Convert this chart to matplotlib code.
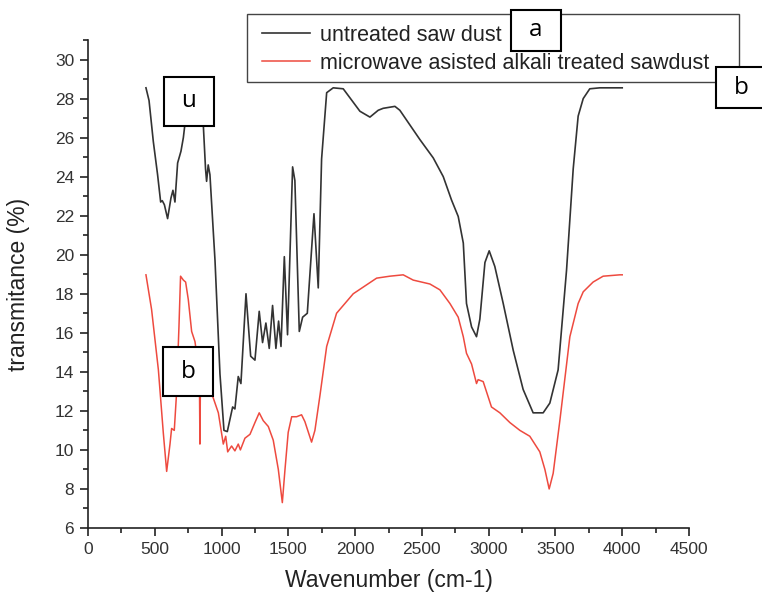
import matplotlib
matplotlib.use("Agg")
import matplotlib.pyplot as plt
from matplotlib.patches import Rectangle
from matplotlib.ticker import MultipleLocator

# ---- data ----
black_w = [434, 457, 489, 521, 544, 556, 572, 596, 621, 636, 651, 671, 696, 714, 726, 760, 790, 830,
           863, 880, 888, 900, 913, 938, 951, 988, 1018, 1043, 1083, 1100, 1125, 1145, 1183, 1218, 1250,
           1282, 1307, 1332, 1357, 1382, 1407, 1427, 1445, 1470, 1494, 1532, 1549, 1582, 1607, 1642,
           1692, 1724, 1749, 1787, 1836, 1911, 2036, 2111, 2173, 2210, 2298, 2335, 2485, 2585, 2660,
           2722, 2772, 2810, 2834, 2872, 2909, 2934, 2972, 3004, 3046, 3109, 3184, 3258, 3333, 3408,
           3458, 3520, 3583, 3633, 3670, 3708, 3757, 3832, 3982, 4000]
black_t = [28.55, 27.9, 25.8, 24.1, 22.7, 22.77, 22.56, 21.85, 22.9, 23.3, 22.7, 24.7, 25.3, 26.0, 26.7,
           27.8, 28.0, 27.6, 26.7, 24.4, 23.76, 24.6, 24.1, 21.2, 19.7, 13.9, 11.0, 10.94, 12.2, 12.1,
           13.76, 13.4, 18.0, 14.8, 14.6, 17.1, 15.5, 16.5, 15.2, 17.4, 15.2, 16.6, 15.3, 19.9, 15.9,
           24.5, 23.8, 16.07, 16.8, 17.0, 22.1, 18.3, 24.9, 28.3, 28.55, 28.5, 27.35, 27.05, 27.4, 27.5,
           27.6, 27.4, 25.9, 24.96, 24.0, 22.8, 21.96, 20.6, 17.5, 16.3, 15.8, 16.7, 19.6, 20.2, 19.4,
           17.5, 15.1, 13.1, 11.9, 11.9, 12.4, 14.1, 19.2, 24.4, 27.1, 28.0, 28.5, 28.55, 28.55, 28.55]

red_w = [434, 476, 527, 564, 589, 614, 626, 646, 663, 681, 693, 714, 731, 751, 776, 801, 820, 834, 838,
         842, 860, 900, 936, 976, 1013, 1031, 1046, 1075, 1100, 1125, 1141, 1175, 1213, 1250, 1282,
         1312, 1350, 1387, 1425, 1455, 1475, 1499, 1525, 1562, 1599, 1624, 1674, 1699, 1737, 1787,
         1861, 1986, 2161, 2260, 2360, 2435, 2560, 2635, 2710, 2772, 2810, 2834, 2872, 2909, 2921,
         2959, 3021, 3084, 3159, 3234, 3308, 3383, 3421, 3453, 3483, 3533, 3608, 3670, 3708, 3782,
         3857, 3982, 4000]
red_t = [18.97, 17.2, 14.1, 10.86, 8.9, 10.3, 11.1, 11.0, 12.9, 16.3, 18.9, 18.7, 18.6, 17.7, 16.07,
         15.55, 14.6, 13.9, 10.3, 13.6, 13.3, 13.0, 12.7, 11.9, 10.3, 10.7, 9.9, 10.2, 9.95, 10.3, 10.0,
         10.6, 10.8, 11.4, 11.9, 11.5, 11.2, 10.5, 9.0, 7.3, 9.0, 10.9, 11.7, 11.7, 11.8, 11.45, 10.4,
         11.0, 12.8, 15.3, 17.0, 18.0, 18.8, 18.9, 18.97, 18.7, 18.5, 18.2, 17.5, 16.8, 15.8, 14.95,
         14.4, 13.4, 13.6, 13.5, 12.2, 11.9, 11.4, 11.0, 10.7, 9.9, 9.0, 8.0, 8.8, 11.5, 15.8, 17.5,
         18.1, 18.6, 18.9, 18.97, 18.97]

series_labels = ["untreated saw dust", "microwave asisted alkali treated sawdust"]
box_labels = ["a", "b", "u", "b"]

plt.rcParams['font.family'] = ['Liberation Sans', 'DejaVu Sans']

W, H = 762, 597
fig = plt.figure(figsize=(W / 100, H / 100), dpi=100)
ax = fig.add_axes([88 / W, 1 - 528 / H, (689 - 88) / W, (528 - 40) / H])

ax.plot(black_w, black_t, color="#333333", lw=1.2, label=series_labels[0])
ax.plot(red_w, red_t, color="#ee4a3f", lw=1.1, label=series_labels[1])

ax.set_xlim(0, 4500)
ax.set_ylim(6, 31)
ax.xaxis.set_major_locator(MultipleLocator(500))
ax.xaxis.set_minor_locator(MultipleLocator(250))
ax.yaxis.set_major_locator(MultipleLocator(2))
ax.yaxis.set_minor_locator(MultipleLocator(1))
for s in ["top", "right"]:
    ax.spines[s].set_visible(False)
for s in ["left", "bottom"]:
    ax.spines[s].set_color("#222222")
    ax.spines[s].set_linewidth(1.2)
ax.tick_params(which="major", direction="out", length=6, width=1.2, colors="#222222",
               labelsize=12.5, labelcolor="#333333", pad=4)
ax.tick_params(which="minor", direction="out", length=3.5, width=1.2, colors="#222222")
ax.set_xlabel("Wavenumber (cm-1)", fontsize=16.5, color="#222222", va="center")
ax.xaxis.set_label_coords(0.5, -(580 - 528) / 488)
ax.set_ylabel("transmitance (%)", fontsize=16.5, color="#222222", va="center")
ax.yaxis.set_label_coords((19 - 88) / 601, 0.5)

# legend frame drawn at the reference's place, entries placed inside it
frame = Rectangle((247 / W, 1 - 82 / H), (739 - 247) / W, (82 - 14) / H, transform=fig.transFigure,
                  facecolor="white", edgecolor="#444444", lw=1.0, zorder=5)
fig.add_artist(frame)
leg = fig.legend(loc="upper left", bbox_to_anchor=(262 / W, 1 - 25 / H), fontsize=15.5,
                 frameon=False, borderpad=0, handlelength=2.25, handletextpad=0.45,
                 labelspacing=0.32, borderaxespad=0)
leg.set_zorder(6)
for t in leg.get_texts():
    t.set_color("#222222")

# annotation boxes (pixel coordinates of the reference image)
boxes = [(511, 10, 561, 51), (716, 67, 780, 108), (164, 77, 214, 126), (163, 347, 213, 396)]
for (x0, y0, x1, y1), lab in zip(boxes, box_labels):
    r = Rectangle((x0 / W, 1 - y1 / H), (x1 - x0) / W, (y1 - y0) / H, transform=fig.transFigure,
                  facecolor="white", edgecolor="black", lw=1.5, zorder=10)
    fig.add_artist(r)
    cx = (x0 + x1) / 2 if x1 <= W else 741
    fig.text(cx / W, 1 - (y0 + y1) / 2 / H, lab, ha="center", va="center", fontsize=17.5,
             family=["Open Sans", "DejaVu Sans"], zorder=11)

fig.savefig("out.png", dpi=100)
